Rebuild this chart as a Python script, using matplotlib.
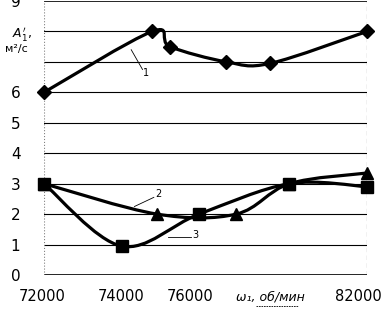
import matplotlib
matplotlib.use("Agg")

import matplotlib.pyplot as plt
from matplotlib.path import Path
from matplotlib.patches import PathPatch

# Data
speed1 = [72000, 75350, 75900, 77650, 79000, 82000]
curve1 = [6.0, 8.0, 7.5, 7.0, 6.95, 8.0]
speed2 = [72000, 75500, 77950, 79600, 82000]
curve2 = [3.0, 2.0, 2.0, 3.0, 3.35]
speed3 = [72000, 74400, 76800, 79600, 82000]
curve3 = [3.0, 0.95, 2.0, 3.0, 2.9]

xtick_labels = ["72000", "74000", "76000", "82000"]
ytick_values = [0, 1, 2, 3, 4, 5, 6, 9]

# label positions (layout only)
xtick_pos = [71940, 74400, 76520, 81720]


def smooth_path(xs, ys):
    """Catmull-Rom style smoothing like Excel smoothed lines."""
    pts = list(zip(xs, ys))
    n = len(pts)
    verts = [pts[0]]
    codes = [Path.MOVETO]
    for i in range(n - 1):
        p0 = pts[i - 1] if i > 0 else pts[i]
        p1 = pts[i]
        p2 = pts[i + 1]
        p3 = pts[i + 2] if i + 2 < n else pts[i + 1]
        c1 = (p1[0] + (p2[0] - p0[0]) / 6, p1[1] + (p2[1] - p0[1]) / 6)
        c2 = (p2[0] - (p3[0] - p1[0]) / 6, p2[1] - (p3[1] - p1[1]) / 6)
        verts += [c1, c2, p2]
        codes += [Path.CURVE4] * 3
    return Path(verts, codes)


fig = plt.figure(figsize=(3.91, 3.09), dpi=100)
ax = fig.add_axes([44 / 391, 1 - 275 / 309, 323 / 391, 274 / 309])
ax.set_xlim(72000, 82000)
ax.set_ylim(0, 9)

for v in range(0, 10):
    ax.axhline(v, color="black", lw=1.2 if v in (0, 9) else 0.8, zorder=1)
ax.axvline(82000, color="black", lw=0.8, ls=(0, (4, 3)), zorder=1)

for spine in ax.spines.values():
    spine.set_visible(False)
ax.axvline(72000, color="gray", lw=0.8, ls=":", zorder=1)

for xs, ys, marker, ms in [(speed1, curve1, "D", 7), (speed2, curve2, "^", 9), (speed3, curve3, "s", 9)]:
    ax.add_patch(PathPatch(smooth_path(xs, ys), fill=False, lw=2.3, color="black",
                           zorder=3, clip_on=False))
    ax.plot(xs, ys, ls="none", marker=marker, ms=ms, color="black", zorder=4, clip_on=False)

ax.set_yticks(ytick_values)
ax.set_yticklabels([str(v) for v in ytick_values])
ax.tick_params(axis="y", length=0, pad=17, labelsize=11)
ax.set_xticks([])
for pos, lab in zip(xtick_pos, xtick_labels):
    ax.text(pos, -0.72, lab, ha="center", va="center", fontsize=10.5)

# axis titles
ax.text(79000, -0.72, "ω\u2081, об/мин", ha="center", va="center", fontsize=9, style="italic")
fig.add_artist(plt.Line2D([256 / 391, 298 / 391], [1 - 306 / 309] * 2, color="black",
                          lw=0.6, ls=(0, (2, 1))))
fig.text(22 / 391, 1 - 34 / 309, "$A_1'$,", ha="center", va="center", fontsize=9)
fig.text(16 / 391, 1 - 49 / 309, "м²/с", ha="center", va="center", fontsize=8)

# curve annotations
ax.plot([74700, 75050], [7.4, 6.75], color="black", lw=0.6)
ax.text(75150, 6.65, "1", ha="center", va="center", fontsize=7)
ax.plot([74800, 75400], [2.25, 2.55], color="black", lw=0.6)
ax.text(75550, 2.65, "2", ha="center", va="center", fontsize=7)
ax.plot([75850, 76550], [1.25, 1.25], color="black", lw=0.6)
ax.text(76700, 1.3, "3", ha="center", va="center", fontsize=7)

fig.savefig("out.png", dpi=100)
